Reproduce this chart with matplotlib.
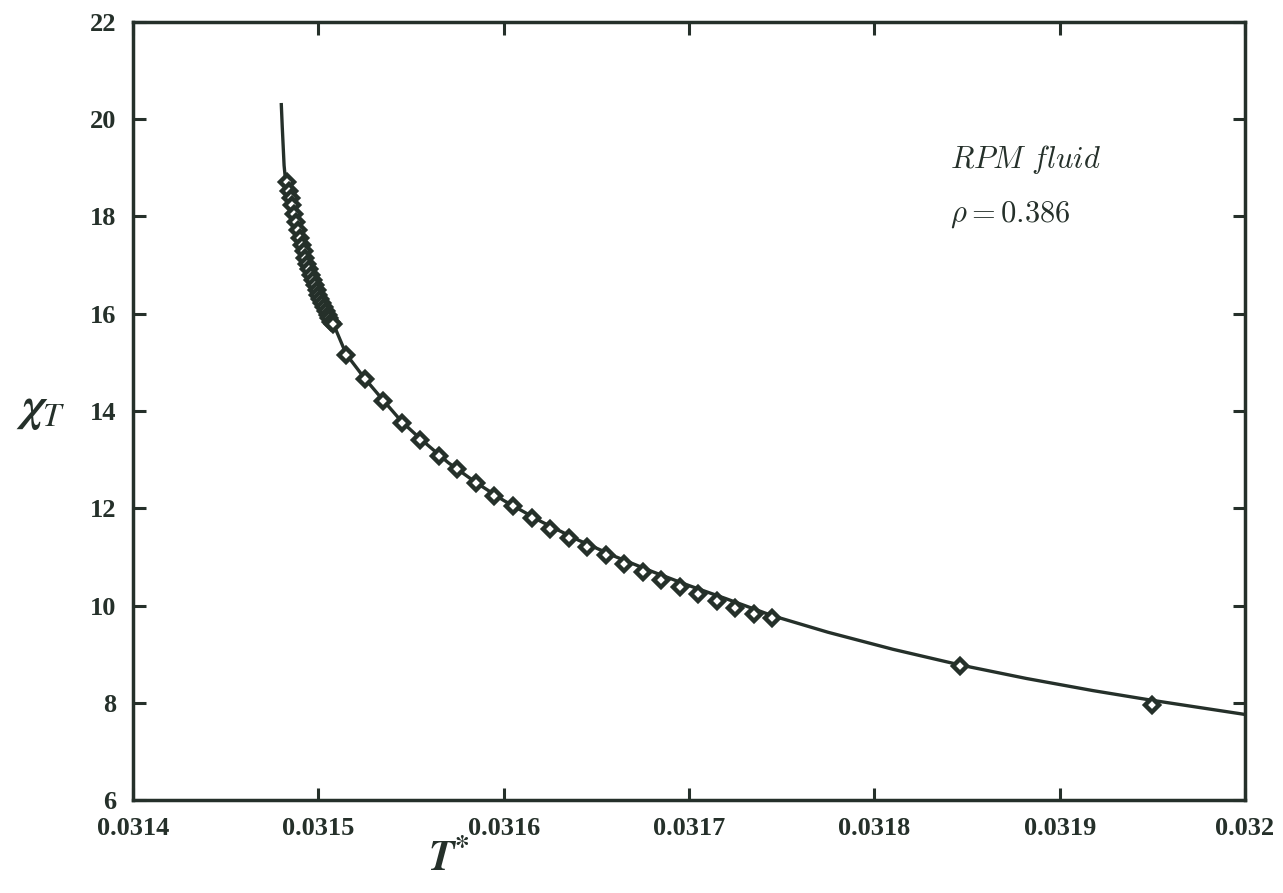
import numpy as np
import matplotlib.pyplot as plt

# simulation points
t_pts = ([0.031483 + k * 0.000001 for k in range(26)]
         + [0.031515 + k * 0.00001 for k in range(24)]
         + [0.031846, 0.03195])
chi_pts = [18.70, 18.53, 18.39, 18.23, 18.06, 17.88, 17.72, 17.56, 17.42, 17.28,
           17.15, 17.03, 16.93, 16.80, 16.70, 16.60, 16.49, 16.39, 16.31, 16.23,
           16.14, 16.06, 15.98, 15.92, 15.84, 15.78,
           15.15, 14.65, 14.20, 13.76, 13.41, 13.08, 12.80, 12.51, 12.25, 12.04,
           11.79, 11.58, 11.39, 11.20, 11.03, 10.85, 10.68, 10.53, 10.39, 10.24,
           10.09, 9.95, 9.82, 9.74,
           8.76, 7.95]

# fitted curve
t_fit = [0.03148, 0.0314805, 0.031481, 0.0314815, 0.031482, 0.031483, 0.031485,
         0.031487, 0.03149, 0.031493, 0.031496, 0.0315, 0.031504, 0.031508,
         0.031515, 0.031525, 0.031535, 0.031545, 0.031555, 0.03157, 0.031585,
         0.0316, 0.03162, 0.03164, 0.03166, 0.03168, 0.0317, 0.03172, 0.031745,
         0.031775, 0.03181, 0.031846, 0.031882, 0.031918, 0.03195, 0.032]
chi_fit = [20.30, 19.85, 19.45, 19.05, 18.85, 18.68, 18.36, 18.03, 17.58, 17.17,
           16.84, 16.47, 16.10, 15.80,
           15.17, 14.67, 14.22, 13.78, 13.43, 12.94, 12.53, 12.16, 11.73, 11.35,
           11.01, 10.70, 10.41, 10.14, 9.79,
           9.45, 9.10, 8.78, 8.50, 8.25, 8.05, 7.76]

xticks = [0.0314, 0.0315, 0.0316, 0.0317, 0.0318, 0.0319, 0.032]
xlabels = ['0.0314', '0.0315', '0.0316', '0.0317', '0.0318', '0.0319', '0.032']
yticks = [6, 8, 10, 12, 14, 16, 18, 20, 22]

ink = '#25302a'
plt.rcParams['mathtext.fontset'] = 'stix'

fig = plt.figure(figsize=(12.83, 8.93), dpi=100)
ax = fig.add_axes([0.1037, 0.1041, 0.8667, 0.8713])

ax.plot(t_fit, chi_fit, color=ink, lw=2.4, zorder=2)
ax.plot(t_pts, chi_pts, ls='none', marker='D', ms=7.5, mfc='white',
        mec=ink, mew=3.2, zorder=3)

ax.set_xlim(0.0314, 0.032)
ax.set_ylim(6, 22)
ax.set_xticks(xticks)
ax.set_xticklabels(xlabels)
ax.set_yticks(yticks)

for s in ax.spines.values():
    s.set_linewidth(2.5)
    s.set_color(ink)
ax.tick_params(direction='in', length=9, width=2.2, color=ink,
               top=True, right=True, pad=12)
for lab in ax.get_xticklabels() + ax.get_yticklabels():
    lab.set_fontfamily('Liberation Serif')
    lab.set_fontweight('bold')
    lab.set_fontsize(19)
    lab.set_color(ink)

fig.text(0.032, 0.541, r'$\boldsymbol{\chi}_{\mathit{T}}$', fontsize=34,
         color=ink, ha='center', va='center')
fig.text(0.35, 0.038, r'$\boldsymbol{T}^{\mathbf{*}}$', fontsize=30,
         color=ink, ha='center', va='center')

ax.text(0.735, 0.823, r'$RPM\ fluid$', transform=ax.transAxes,
        fontsize=22, color=ink, ha='left', va='center',
        math_fontfamily='cm')
ax.text(0.735, 0.752, r'$\rho = 0.386$', transform=ax.transAxes,
        fontsize=22, color=ink, ha='left', va='center',
        math_fontfamily='cm')

fig.savefig('out.png', dpi=100, facecolor='white')
